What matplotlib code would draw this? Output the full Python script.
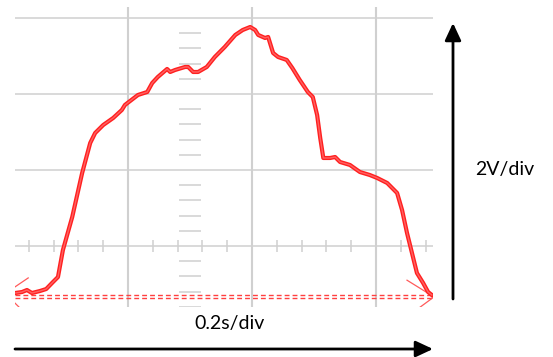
import matplotlib
matplotlib.use('Agg')
import numpy as np
import matplotlib.pyplot as plt

# Scope trace: time in seconds, level in volts
# (0.2 s per division, 2 V per division, centre line = 0 V)
time_s = [0.018, 0.029, 0.037, 0.045, 0.058, 0.068, 0.079, 0.087, 0.095, 0.110,
          0.126, 0.139, 0.147, 0.160, 0.176, 0.190, 0.195, 0.216, 0.231, 0.239,
          0.248, 0.263, 0.268, 0.276, 0.292, 0.297, 0.305, 0.313, 0.327, 0.340,
          0.356, 0.373, 0.385, 0.397, 0.405, 0.410, 0.421, 0.426, 0.434, 0.442,
          0.456, 0.465, 0.477, 0.490, 0.498, 0.505, 0.510, 0.515, 0.526, 0.534,
          0.542, 0.558, 0.574, 0.590, 0.602, 0.618, 0.634, 0.642, 0.650, 0.658,
          0.666, 0.676, 0.684, 0.690]
volts = [-1.237, -1.211, -1.158, -1.237, -1.184, -1.132, -0.947, -0.816, -0.105, 0.763,
         1.921, 2.711, 2.974, 3.184, 3.368, 3.579, 3.711, 3.974, 4.053, 4.289,
         4.447, 4.658, 4.579, 4.632, 4.711, 4.711, 4.579, 4.579, 4.711, 4.974,
         5.237, 5.553, 5.684, 5.763, 5.684, 5.553, 5.474, 5.500, 5.079, 4.974,
         4.895, 4.684, 4.368, 4.053, 3.921, 3.447, 2.842, 2.316, 2.316, 2.342,
         2.211, 2.132, 1.947, 1.868, 1.789, 1.658, 1.395, 0.947, 0.342, -0.184,
         -0.711, -0.974, -1.211, -1.289]

# dashed reference level (drawn as two rows of dashes)
ref_levels = [-1.29, -1.37]

# trigger markers at both screen edges: (vertex, arm end, arm end)
left_marker_t = [0.039, 0.002, 0.033]
left_marker_v = [-0.84, -1.25, -1.75]
right_marker_t = [0.650, 0.6935, 0.656]
right_marker_v = [-0.90, -1.34, -1.79]

major_t = [0.2, 0.4, 0.6]
major_v = [0, 2, 4, 6]
minor_t = [0.04, 0.08, 0.12, 0.16, 0.24, 0.28, 0.32, 0.36, 0.44, 0.48, 0.52, 0.56, 0.64, 0.68]
minor_v = [-1.6, -1.2, -0.8, -0.4, 0.4, 0.8, 1.2, 1.6, 2.4, 2.8, 3.2, 3.6,
           4.4, 4.8, 5.2, 5.6]
centre_t = 0.3

W, H = 553, 357
fig = plt.figure(figsize=(W / 100, H / 100), dpi=100)
ax = fig.add_axes([15 / W, (H - 307) / H, (433 - 15) / W, 300 / H])
ax.set_xlim(0.0177, 0.6919)
ax.set_ylim(-1.605, 6.289)
ax.axis('off')

grid_col = '#d0d0d0'
for t in major_t:
    ax.axvline(t, color=grid_col, lw=1.5, zorder=1)
for v in major_v:
    ax.axhline(v, color=grid_col, lw=1.1, zorder=1)

# minor ticks along the centre lines
ax.vlines(minor_t, -0.16, 0.16, color=grid_col, lw=1.1, zorder=1)
ax.hlines(minor_v, centre_t - 0.0177, centre_t + 0.0177, color=grid_col, lw=1.1, zorder=1)

# reference level
for lv in ref_levels:
    ax.axhline(lv, color='#ff4040', lw=1.0, ls=(0, (3.5, 2.2)), zorder=2)

# edge markers
ax.plot(left_marker_t, left_marker_v, color='#ff5a5a', lw=0.9, zorder=3)
ax.plot(right_marker_t, right_marker_v, color='#ff5a5a', lw=0.9, zorder=3)

# trace
ax.plot(time_s, volts, color='#ff2020', lw=3.0, solid_joinstyle='round', zorder=4)
ax.plot(time_s, volts, color='#ff7272', lw=1.0, alpha=0.8, zorder=5)

# scale arrows
arrow = dict(arrowstyle='-|>,head_length=0.75,head_width=0.35', color='black',
             lw=2.0, shrinkA=0, shrinkB=0, mutation_scale=14)
ax.annotate('', xy=(453 / W, 1 - 23 / H), xytext=(453 / W, 1 - 299 / H),
            xycoords='figure fraction', textcoords='figure fraction', arrowprops=arrow)
ax.annotate('', xy=(433 / W, 1 - 349 / H), xytext=(15 / W, 1 - 349 / H),
            xycoords='figure fraction', textcoords='figure fraction', arrowprops=arrow)

fig.text(505 / W, 1 - 170 / H, '2V/div', ha='center', va='center',
         fontsize=14, family='Lato')
fig.text(230 / W, 1 - 324 / H, '0.2s/div', ha='center', va='center',
         fontsize=14, family='Lato')

fig.savefig('out.png', dpi=100)
